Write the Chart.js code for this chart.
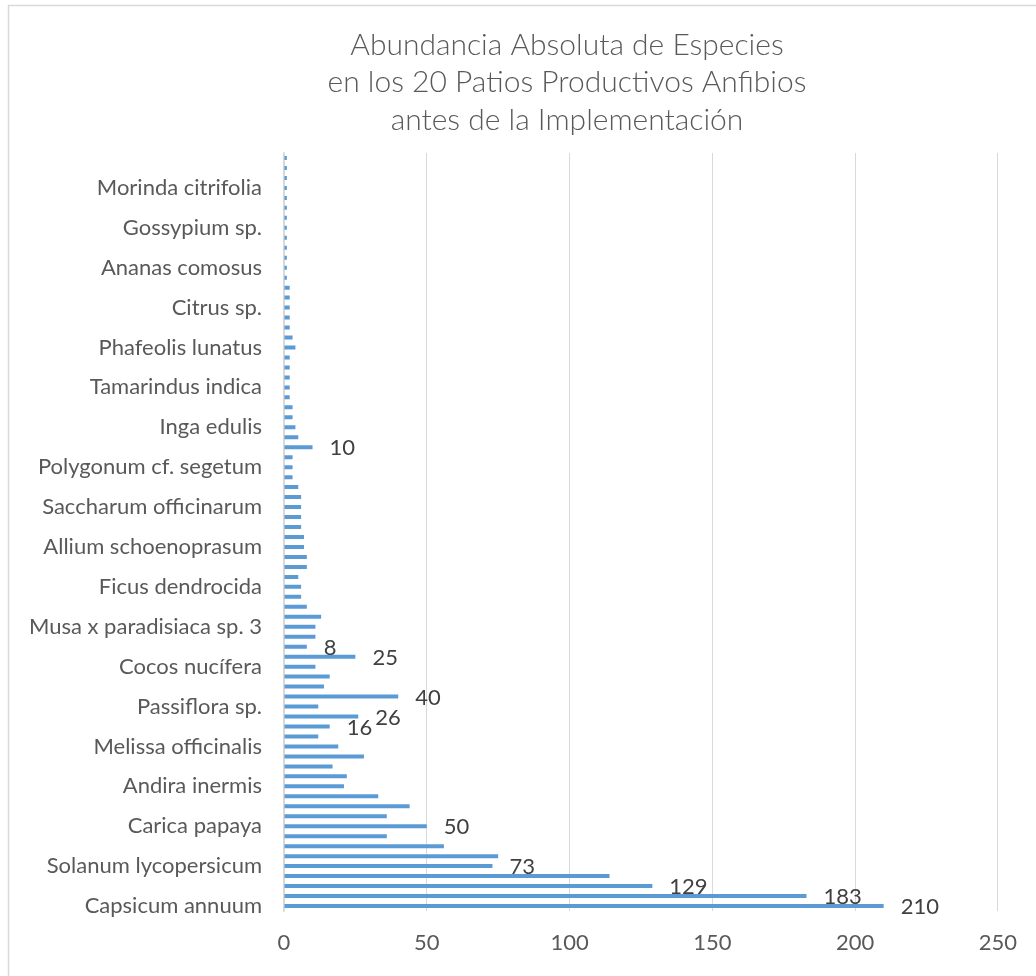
<!DOCTYPE html>
<html>
<head>
<meta charset="utf-8">
<script src="https://cdn.jsdelivr.net/npm/chart.js@4.4.1/dist/chart.umd.min.js"></script>
<style>
  body { margin: 0; background: #fff; }
  #wrap { width: 1036px; height: 976px; }
</style>
</head>
<body>
<div id="wrap"><canvas id="grafico" width="1036" height="976"></canvas></div>
<script>
// Especies, de abajo hacia arriba (solo se ven los nombres de cada 4a barra)
const especies = [
  'Capsicum annuum', '', '', '',
  'Solanum lycopersicum', '', '', '',
  'Carica papaya', '', '', '',
  'Andira inermis', '', '', '',
  'Melissa officinalis', '', '', '',
  'Passiflora sp.', '', '', '',
  'Cocos nucífera', '', '', '',
  'Musa x paradisiaca sp. 3', '', '', '',
  'Ficus dendrocida', '', '', '',
  'Allium schoenoprasum', '', '', '',
  'Saccharum officinarum', '', '', '',
  'Polygonum cf. segetum', '', '', '',
  'Inga edulis', '', '', '',
  'Tamarindus indica', '', '', '',
  'Phafeolis lunatus', '', '', '',
  'Citrus sp.', '', '', '',
  'Ananas comosus', '', '', '',
  'Gossypium sp.', '', '', '',
  'Morinda citrifolia', '', '', ''
];

const abundancia = [
  210, 183, 129, 114, 73, 75, 56, 36, 50, 36,
  44, 33, 21, 22, 17, 28, 19, 12, 16, 26,
  12, 40, 14, 16, 11, 25, 8, 11, 11, 13,
  8, 6, 6, 5, 8, 8, 7, 7, 6, 6,
  6, 6, 5, 3, 3, 3, 10, 5, 4, 3,
  3, 2, 2, 2, 2, 2, 4, 3, 2, 2,
  2, 2, 2, 1, 1, 1, 1, 1, 1, 1,
  1, 1, 1, 1, 1, 1
];

// barras que llevan etiqueta de valor en el original
const barrasConEtiqueta = [0, 1, 2, 4, 8, 18, 19, 21, 25, 26, 46];

const titulo = [
  'Abundancia Absoluta de Especies',
  'en los 20 Patios Productivos Anfibios',
  'antes de la Implementación'
];

const fuente = 'Lato, "Open Sans", sans-serif';

// titulo, borde del grafico y etiquetas de valor
const extras = {
  id: 'extras',
  beforeDraw(chart) {
    const ctx = chart.ctx;
    ctx.save();
    ctx.fillStyle = '#fff';
    ctx.fillRect(0, 0, chart.width, chart.height);
    ctx.strokeStyle = '#D9D9D9';
    ctx.lineWidth = 1.5;
    ctx.strokeRect(8.5, 5.5, 1200, 1200);
    ctx.restore();
  },
  afterDatasetsDraw(chart) {
    const ctx = chart.ctx;
    ctx.save();
    ctx.fillStyle = '#595959';
    ctx.font = '300 30px ' + fuente;
    ctx.textAlign = 'center';
    ctx.textBaseline = 'middle';
    titulo.forEach((linea, i) => ctx.fillText(linea, 567, 45 + i * 37.5));

    const meta = chart.getDatasetMeta(0);
    ctx.fillStyle = '#404040';
    ctx.font = '22px ' + fuente;
    ctx.textAlign = 'left';
    barrasConEtiqueta.forEach(i => {
      const bar = meta.data[i];
      ctx.fillText(String(abundancia[i]), bar.x + 17, bar.y + 1);
    });
    ctx.restore();
  }
};

new Chart(document.getElementById('grafico'), {
  type: 'bar',
  data: {
    labels: especies,
    datasets: [{
      data: abundancia,
      backgroundColor: '#5B9BD5',
      barPercentage: 0.4,
      categoryPercentage: 1.0
    }]
  },
  options: {
    indexAxis: 'y',
    responsive: false,
    animation: false,
    layout: { padding: { top: 153, right: 35, left: 0, bottom: 0 } },
    plugins: {
      legend: { display: false },
      tooltip: { enabled: false }
    },
    scales: {
      x: {
        min: 0,
        max: 250,
        ticks: {
          stepSize: 50,
          color: '#595959',
          font: { family: fuente, size: 22 },
          padding: 19
        },
        grid: { color: '#D9D9D9', drawTicks: false },
        border: { display: false },
        afterFit(s) { s.height = 65; }
      },
      y: {
        reverse: true,
        ticks: {
          autoSkip: false,
          color: '#595959',
          font: { family: fuente, size: 22 },
          padding: 22
        },
        grid: { display: false, drawTicks: false },
        border: { display: true, color: '#D9D9D9', width: 1.5 },
        afterFit(s) { s.width = 284; }
      }
    }
  },
  plugins: [extras]
});
</script>
</body>
</html>
